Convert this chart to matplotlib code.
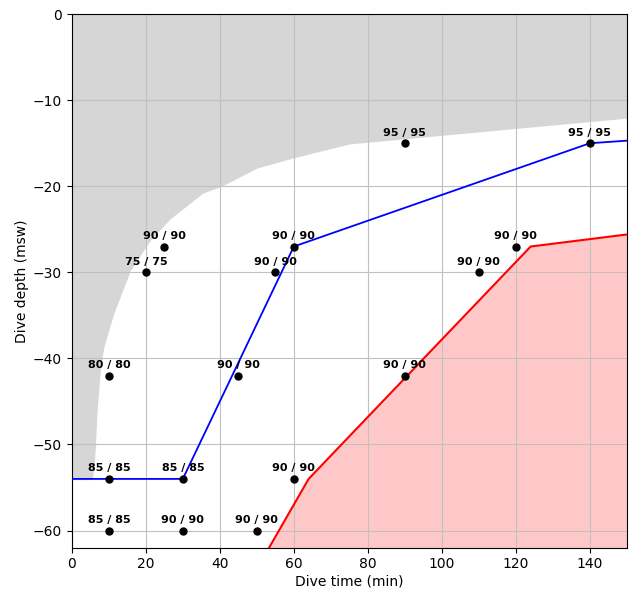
import numpy as np
import matplotlib
matplotlib.use("Agg")
import matplotlib.pyplot as plt

# gray region (upper-left limit)
grayX = [0, 5.3, 5.8, 6.2, 6.6, 7.6, 8.5, 11.2, 15.7, 21.1, 26.5, 35.4, 40, 50, 60, 75, 150]
grayY = [-54, -54, -52.8, -50.1, -46.3, -40.9, -38.6, -34.7, -29.7, -26.2, -23.7,
         -20.7, -20.0, -17.8, -16.6, -15.0, -12.0]

# blue profile
blueX = [0, 30, 60, 140, 150]
blueY = [-54, -54, -27, -15, -14.7]

# red limit
redX = [53.3, 64, 124, 150]
redY = [-62, -54, -27, -25.6]

# measured points and labels
ptX = [10, 30, 50, 10, 30, 60, 10, 45, 90, 20, 55, 110, 25, 60, 120, 90, 140]
ptY = [-60, -60, -60, -54, -54, -54, -42, -42, -42, -30, -30, -30, -27, -27, -27, -15, -15]
ptLabels = ["85 / 85", "90 / 90", "90 / 90", "85 / 85", "85 / 85", "90 / 90",
            "80 / 80", "90 / 90", "90 / 90", "75 / 75", "90 / 90", "90 / 90",
            "90 / 90", "90 / 90", "90 / 90", "95 / 95", "95 / 95"]

fig = plt.figure(figsize=(6.3, 5.89), dpi=100)
ax = fig.add_axes([0.114, 0.070, 0.881, 0.906])

ax.fill_between(grayX, grayY, 0, color="#d6d6d6", zorder=1)
ax.fill_between(redX, redY, -62, color="#ffc8c8", zorder=1)
ax.plot(redX, redY, color="red", linewidth=1.5, zorder=3)
ax.plot(blueX, blueY, color="blue", linewidth=1.3, zorder=3)
ax.scatter(ptX, ptY, color="black", s=25, zorder=4)
for x, y, lab in zip(ptX, ptY, ptLabels):
    ax.annotate(lab, (x, y), xytext=(0, 4), textcoords="offset points",
                ha="center", va="bottom", fontsize=8, fontweight="bold", zorder=5)

ax.set_xlim(0, 150)
ax.set_ylim(-62, 0)
ax.set_xticks(np.arange(0, 141, 20))
ax.set_yticks(np.arange(-60, 1, 10))
ax.grid(True, color="#c0c0c0", linewidth=0.8, zorder=2)
for gl in ax.get_xgridlines() + ax.get_ygridlines():
    gl.set_zorder(2)
ax.tick_params(labelsize=10)
ax.set_xlabel("Dive time (min)", fontsize=10, labelpad=2)
ax.set_ylabel("Dive depth (msw)", fontsize=10, labelpad=3)

fig.savefig("out.png", dpi=100)
